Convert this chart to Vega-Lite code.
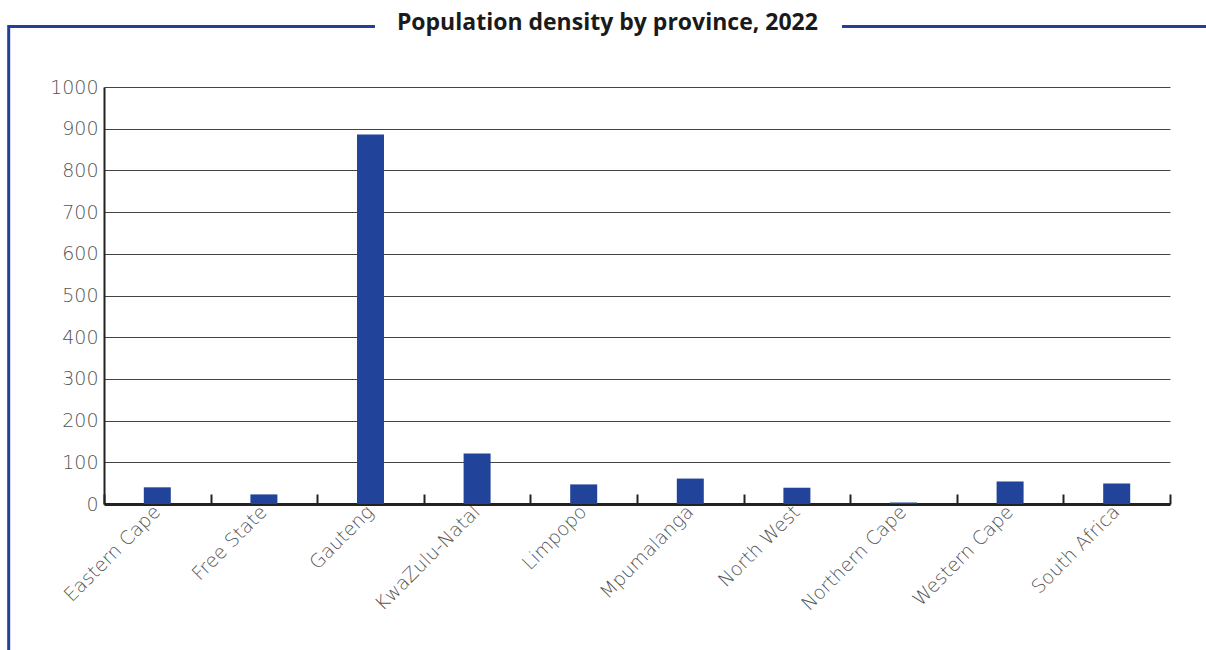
{
  "$schema": "https://vega.github.io/schema/vega-lite/v6.json",
  "width": 1066,
  "height": 417,
  "padding": {"left": 7, "top": 11, "right": 0, "bottom": 0},
  "background": "white",
  "title": {
    "text": "Population density by province, 2022",
    "font": "Open Sans",
    "fontSize": 23,
    "fontWeight": "bold",
    "color": "#1a1a1a",
    "anchor": "middle",
    "frame": "bounds",
    "offset": -11
  },
  "config": {"view": {"stroke": null}},
  "resolve": {"scale": {"x": "independent"}},
  "layer": [
    {
      "data": {
        "values": [
          {"province": "Eastern Cape", "density": 40},
          {"province": "Free State", "density": 23},
          {"province": "Gauteng", "density": 886},
          {"province": "KwaZulu-Natal", "density": 121},
          {"province": "Limpopo", "density": 47},
          {"province": "Mpumalanga", "density": 61},
          {"province": "North West", "density": 39},
          {"province": "Northern Cape", "density": 3.6},
          {"province": "Western Cape", "density": 54},
          {"province": "South Africa", "density": 49}
        ]
      },
      "mark": {"type": "bar", "width": 27, "color": "#21439a"},
      "encoding": {
        "x": {
          "field": "province",
          "type": "nominal",
          "sort": null,
          "title": null,
          "scale": {"paddingInner": 0, "paddingOuter": 0},
          "axis": {
            "labelAngle": -45,
            "labelFont": "DejaVu Sans",
            "labelFontWeight": 200,
            "labelFontSize": 19,
            "labelColor": "#555555",
            "labelPadding": 8,
            "labelOffset": -7,
            "tickBand": "extent",
            "tickSize": -10,
            "tickWidth": 2,
            "tickColor": "#222222",
            "domainColor": "#222222",
            "domainWidth": 3,
            "grid": false
          }
        },
        "y": {
          "field": "density",
          "type": "quantitative",
          "title": null,
          "scale": {"domain": [0, 1000], "nice": false},
          "axis": {
            "values": [0, 100, 200, 300, 400, 500, 600, 700, 800, 900, 1000],
            "format": "d",
            "labelFont": "DejaVu Sans",
            "labelFontWeight": 200,
            "labelFontSize": 19,
            "labelColor": "#555555",
            "labelPadding": 6,
            "ticks": false,
            "domainColor": "#222222",
            "domainWidth": 2,
            "gridColor": "#444444",
            "gridWidth": 1
          }
        }
      }
    },
    {
      "data": {"values": [{}]},
      "mark": {"type": "rule", "color": "#22409a", "strokeWidth": 3, "clip": false},
      "encoding": {
        "x": {"datum": -0.894, "type": "quantitative", "scale": {"domain": [0, 10]}, "axis": null},
        "y": {"datum": 1148.6, "type": "quantitative", "scale": {"domain": [0, 1000], "nice": false}},
        "y2": {"datum": -351}
      }
    },
    {
      "data": {"values": [{}]},
      "mark": {"type": "rule", "color": "#22409a", "strokeWidth": 3, "clip": false},
      "encoding": {
        "x": {"datum": -0.894, "type": "quantitative", "scale": {"domain": [0, 10]}, "axis": null},
        "x2": {"datum": 2.542},
        "y": {"datum": 1145, "type": "quantitative", "scale": {"domain": [0, 1000], "nice": false}}
      }
    },
    {
      "data": {"values": [{}]},
      "mark": {"type": "rule", "color": "#22409a", "strokeWidth": 3, "clip": false},
      "encoding": {
        "x": {"datum": 6.923, "type": "quantitative", "scale": {"domain": [0, 10]}, "axis": null},
        "x2": {"datum": 10.338},
        "y": {"datum": 1145, "type": "quantitative", "scale": {"domain": [0, 1000], "nice": false}}
      }
    }
  ]
}
